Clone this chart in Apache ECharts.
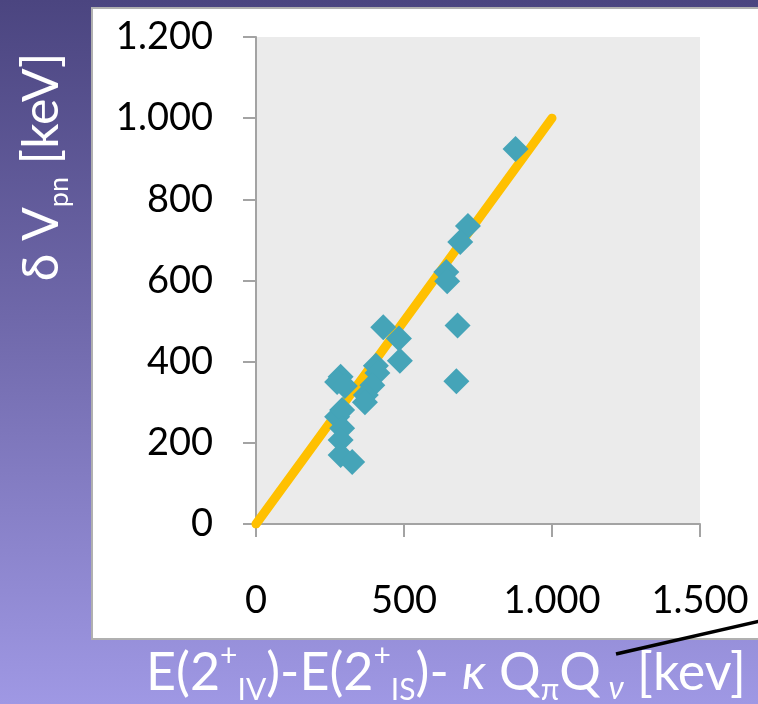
<!DOCTYPE html>
<html>
<head>
    <meta charset="utf-8">
    <title>delta Vpn</title>
    <script src="https://cdn.jsdelivr.net/npm/echarts@6/dist/echarts.min.js"></script>
    <style>
        html, body { margin: 0; padding: 0; }
    </style>
</head>
<body>
    <div id="main" style="width: 758px;height:704px;"></div>
    <script type="text/javascript">
        // measured points (x, y) in keV
        var xValues = [877, 716, 690, 643, 646, 681, 677, 430, 483, 486, 405, 410, 393, 371,
                       286, 274, 300, 274, 291, 291, 286, 286, 325, 368];
        var yValues = [924, 734, 695, 621, 598, 489, 352, 485, 457, 402, 390, 372, 342, 318,
                       363, 350, 340, 264, 281, 236, 207, 170, 153, 300];
        // the y = x reference line
        var fitLine = [[0, 0], [1000, 1000]];
        var xTicks = [0, 500, 1000, 1500];
        var yTicks = [0, 200, 400, 600, 800, 1000, 1200];

        var labelFont = 'Lato, "Open Sans", sans-serif';

        function dotted(v) {
            // European thousands separator: 1.000
            var s = String(Math.round(v));
            return s.replace(/\B(?=(\d{3})+(?!\d))/g, '.');
        }

        var points = xValues.map(function (x, i) {
            return [x, yValues[i]];
        });

        var myChart = echarts.init(document.getElementById('main'));

        var axisGray = '#a3a3a3';

        option = {
            backgroundColor: {
                type: 'linear', x: 0, y: 0, x2: 0, y2: 1,
                colorStops: [
                    { offset: 0, color: '#4b4580' },
                    { offset: 0.45, color: '#6f68aa' },
                    { offset: 1, color: '#9f98e4' }
                ]
            },
            animation: false,
            graphic: [
                {
                    type: 'rect', z: -10,
                    shape: { x: 92, y: 8, width: 680, height: 631 },
                    style: { fill: '#ffffff', stroke: '#b0b0b0', lineWidth: 2 }
                },
                {
                    type: 'text', z: 10,
                    x: 42, y: 167,
                    rotation: Math.PI / 2,
                    style: {
                        text: '{m|δ V}{s|pn}{m| [keV]}',
                        fill: '#ffffff',
                        align: 'center',
                        verticalAlign: 'middle',
                        rich: {
                            m: { fontSize: 50, fontFamily: labelFont, color: '#fff', lineHeight: 62, verticalAlign: 'middle' },
                            s: { fontSize: 27, fontFamily: labelFont, color: '#fff', lineHeight: 62, verticalAlign: 'bottom' }
                        }
                    }
                },
                {
                    type: 'text', z: 10,
                    x: 446, y: 673,
                    style: {
                        text: '{m|E(2}{p|+}{s|IV}{m|)-E(2}{p|+}{s|IS}{m|)- }{i|κ}{m| Q}{s|π}{m|Q}{s| }{i2|ν}{m| [kev]}',
                        fill: '#ffffff',
                        align: 'center',
                        verticalAlign: 'middle',
                        rich: {
                            m: { fontSize: 52, fontFamily: labelFont, color: '#fff', lineHeight: 64, verticalAlign: 'middle' },
                            i: { fontSize: 50, fontFamily: labelFont, fontStyle: 'italic', color: '#fff', lineHeight: 64, verticalAlign: 'middle' },
                            i2: { fontSize: 32, fontFamily: labelFont, fontStyle: 'italic', color: '#fff', lineHeight: 64, verticalAlign: 'bottom' },
                            p: { fontSize: 30, fontFamily: labelFont, color: '#fff', lineHeight: 64, verticalAlign: 'top' },
                            s: { fontSize: 30, fontFamily: labelFont, color: '#fff', lineHeight: 64, verticalAlign: 'bottom' }
                        }
                    }
                },
                {
                    type: 'line', z: 10,
                    shape: { x1: 616, y1: 654, x2: 760, y2: 621 },
                    style: { stroke: '#000000', lineWidth: 3.5 }
                }
            ],
            grid: {
                left: 256,
                top: 37,
                right: 58,
                bottom: 180,
                show: true,
                backgroundColor: '#ebebeb',
                borderWidth: 0
            },
            xAxis: {
                type: 'value',
                min: xTicks[0],
                max: xTicks[xTicks.length - 1],
                interval: 500,
                splitLine: { show: false },
                axisLine: { show: true, onZero: false, lineStyle: { color: axisGray, width: 2 } },
                axisTick: { show: true, inside: false, length: 13, lineStyle: { color: axisGray, width: 2 } },
                axisLabel: {
                    margin: 58,
                    fontSize: 38,
                    fontFamily: labelFont,
                    color: '#000',
                    formatter: dotted
                }
            },
            yAxis: {
                type: 'value',
                min: yTicks[0],
                max: yTicks[yTicks.length - 1],
                interval: 200,
                splitLine: { show: false },
                axisLine: { show: true, onZero: false, lineStyle: { color: axisGray, width: 2 } },
                axisTick: { show: true, inside: false, length: 13, lineStyle: { color: axisGray, width: 2 } },
                axisLabel: {
                    margin: 43,
                    fontSize: 38,
                    fontFamily: labelFont,
                    color: '#000',
                    formatter: dotted
                }
            },
            series: [{
                type: 'line',
                data: fitLine,
                symbol: 'none',
                z: 2,
                lineStyle: { color: '#ffc000', width: 9, cap: 'round' }
            }, {
                type: 'scatter',
                data: points,
                symbol: 'diamond',
                symbolSize: 26,
                z: 3,
                itemStyle: { color: '#45a4b8', opacity: 1 }
            }]
        };

        myChart.setOption(option);
    </script>
</body>
</html>
